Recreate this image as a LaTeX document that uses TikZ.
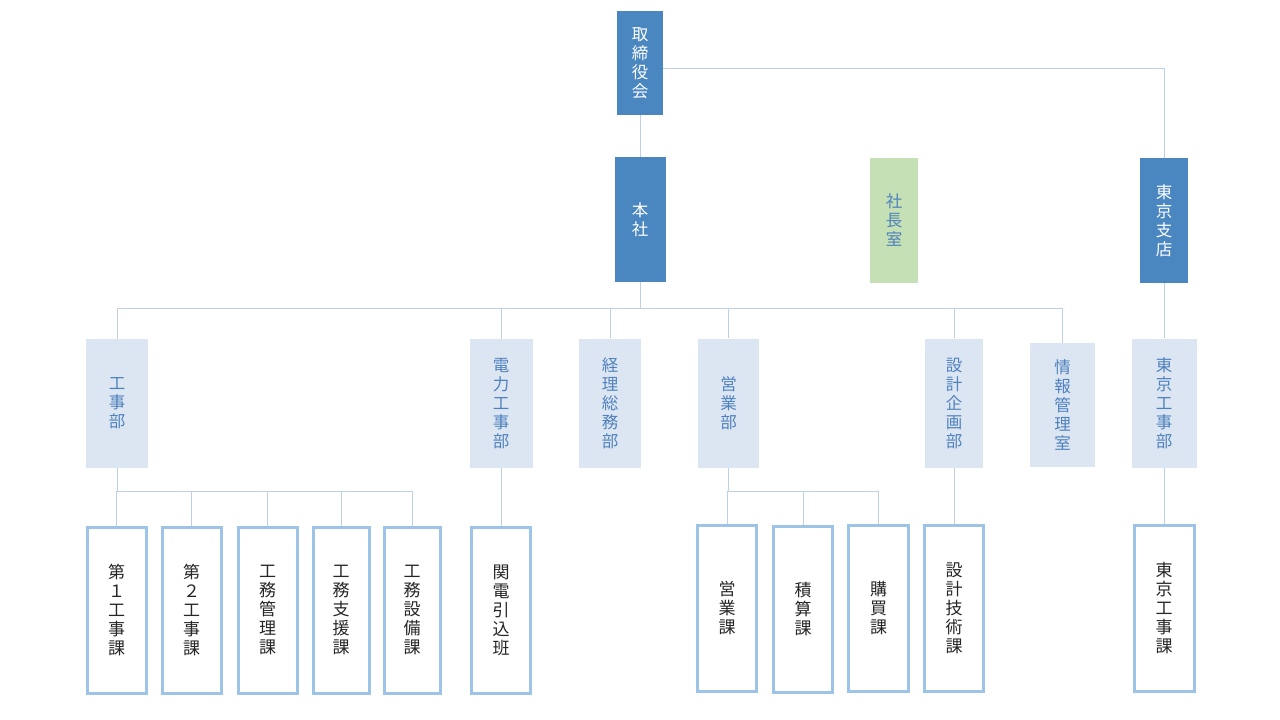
\documentclass[tikz,border=0pt]{standalone}
\usepackage{fontspec}
\usepackage{tikz}
\usetikzlibrary{positioning}
\setmainfont{Noto Sans CJK JP}
\newfontfamily\jpfont{Noto Sans CJK JP}

\definecolor{topblue}{RGB}{74,134,192}
\definecolor{ceogreen}{RGB}{197,224,180}
\definecolor{deptfill}{RGB}{220,230,242}
\definecolor{depttext}{RGB}{79,129,189}
\definecolor{secline}{RGB}{157,195,230}
\definecolor{linkblue}{RGB}{190,208,228}
\definecolor{sectext}{RGB}{38,38,38}

\begin{document}
\begin{tikzpicture}[x=1pt,y=-1pt,inner sep=0pt,align=center,
                    link/.style={draw=linkblue,line width=1pt}]

  \tikzstyle{topbox}=[fill=topblue,text=white,minimum width=48,minimum height=125,
                      font=\jpfont\fontsize{16.5}{19}\selectfont]
  \tikzstyle{ceobox}=[topbox,fill=ceogreen,text=depttext]
  \tikzstyle{deptbox}=[fill=deptfill,text=depttext,minimum width=62,minimum height=129,
                       font=\jpfont\fontsize{16.5}{19}\selectfont]
  \tikzstyle{secbox}=[draw=secline,line width=3pt,fill=white,text=sectext,
                      minimum width=59,minimum height=166,
                      font=\jpfont\fontsize{17}{19}\selectfont]

  \useasboundingbox (0,0) rectangle (1280,720);

  % top level
  \node[topbox,minimum width=46,minimum height=104] (board)  at (640,63)      {取\\締\\役\\会};
  \node[topbox,minimum width=51]                    (honsha) at (640,219.5)   {本\\社};
  \node[ceobox]                                     (ceo)    at (894,220)     {社\\長\\室};
  \node[topbox]                                     (tokyo)  at (1164,220.5)  {東\\京\\支\\店};

  % departments
  \node[deptbox]                   (koji)     at (117,403.5)  {工\\事\\部};
  \node[deptbox,minimum width=63]  (denryoku) at (501,403.5)  {電\\力\\工\\事\\部};
  \node[deptbox]                   (keiri)    at (610,403)    {経\\理\\総\\務\\部};
  \node[deptbox,minimum width=61]  (eigyo)    at (728.5,403)  {営\\業\\部};
  \node[deptbox,minimum width=58]  (sekkei)   at (954,403)    {設\\計\\企\\画\\部};
  \node[deptbox,minimum width=65,minimum height=124] (joho) at (1062.5,405) {情\\報\\管\\理\\室};
  \node[deptbox,minimum width=65]  (tkoji)    at (1164,403)   {東\\京\\工\\事\\部};

  % sections
  \node[secbox]                   (k1)     at (116.5,610) {第\\１\\工\\事\\課};
  \node[secbox]                   (k2)     at (191.5,610) {第\\２\\工\\事\\課};
  \node[secbox]                   (k3)     at (267.5,610) {工\\務\\管\\理\\課};
  \node[secbox,minimum width=56]  (k4)     at (341,610)   {工\\務\\支\\援\\課};
  \node[secbox,minimum width=56]  (k5)     at (412,610)   {工\\務\\設\\備\\課};
  \node[secbox]                   (kanden) at (501,610)   {関\\電\\引\\込\\班};
  \node[secbox]                   (e1)     at (727,608.5) {営\\業\\課};
  \node[secbox]                   (e2)     at (803,609.5) {積\\算\\課};
  \node[secbox,minimum width=60]  (e3)     at (878.5,608.5) {購\\買\\課};
  \node[secbox]                   (s1)     at (954,608.5) {設\\計\\技\\術\\課};
  \node[secbox,minimum width=60]  (t1)     at (1164,608.5) {東\\京\\工\\事\\課};

  % connectors
  \coordinate (hbus) at (640,308);
  \coordinate (kbus) at (117,491);
  \coordinate (ebus) at (728.5,491);

  \draw[link] (board.south) -- (honsha.north);
  \draw[link] ([yshift=-5pt]board.east) -| (tokyo.north);
  \draw[link] (honsha.south) -- (hbus);
  \foreach \d in {koji,denryoku,keiri,eigyo,sekkei,joho}
    \draw[link] (hbus) -| (\d.north);
  \draw[link] (tokyo.south) -- (tkoji.north);

  \draw[link] (koji.south) -- (kbus);
  \foreach \s in {k1,k2,k3,k4,k5}
    \draw[link] (kbus) -| (\s.north);
  \draw[link] (denryoku.south) -- (kanden.north);
  \draw[link] (eigyo.south) -- (ebus);
  \foreach \s in {e1,e2,e3}
    \draw[link] (ebus) -| (\s.north);
  \draw[link] (sekkei.south) -- (s1.north);
  \draw[link] (tkoji.south) -- (t1.north);
\end{tikzpicture}
\end{document}
